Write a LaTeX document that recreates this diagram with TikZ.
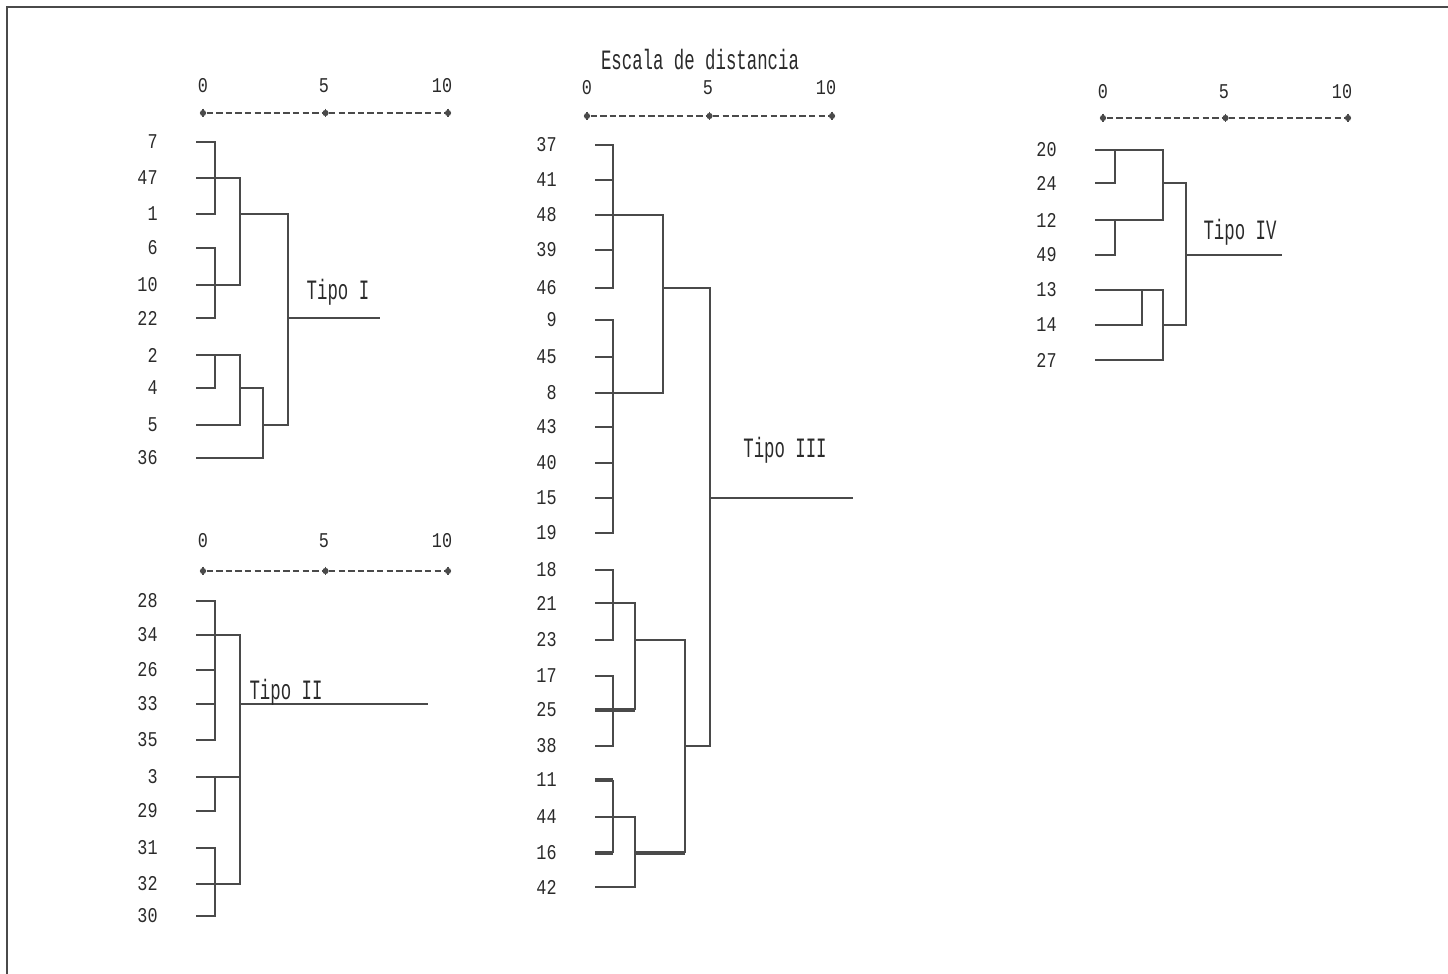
\documentclass[tikz,border=0pt]{standalone}
\usepackage{fontspec}
\newfontfamily\dendfont[FakeStretch=0.8]{Liberation Mono}
\newfontfamily\tipofont[FakeStretch=0.62]{Liberation Mono}
\usetikzlibrary{positioning}
\definecolor{dendline}{HTML}{4A4A4A}
\definecolor{dendtext}{HTML}{2A2A2A}
\tikzset{
leaflabel/.style={
  anchor=east,
  inner sep=0pt,
  text=dendtext,
  font=\dendfont\fontsize{10.5}{12}\selectfont
},
scalenum/.style={inner sep=0pt, text=dendtext, font=\dendfont\fontsize{10.5}{12}\selectfont},
scaletick/.style={circle, fill=dendline, inner sep=1.1pt},
scaleline/.style={draw=dendline, line width=0.7pt, dash pattern=on 3.2pt off 1.6pt},
branch/.style={draw=dendline, line width=0.75pt},
heavy/.style={draw=dendline, line width=1.7pt},
tipolabel/.style={inner sep=0pt, text=dendtext, font=\tipofont\fontsize{14}{16}\selectfont},
}

\begin{document}
\begin{tikzpicture}[x=0.5pt, y=-0.5pt]
    \useasboundingbox (0,0) rectangle (1448,974);
    % frame (only top and left edges show)
    \draw[draw=dendline, line width=1pt] (7,974) -- (7,7) -- (1448,7);

    % distance scales
    \foreach \p/\xo/\yn/\yt in {a/203/86/113, b/203/541/571, c/587/88/116, d/1103/92/118} {
        \node[scalenum] (\p-n0) at (\xo,\yn) {0};
        \node[scalenum] (\p-n5) at ({\xo+121},\yn) {5};
        \node[scalenum] (\p-n10) at ({\xo+239},\yn) {10};
        \node[scaletick] (\p-t0) at (\xo,\yt) {};
        \node[scaletick] (\p-t5) at ({\xo+122.5},\yt) {};
        \node[scaletick] (\p-t10) at ({\xo+245},\yt) {};
        \draw[scaleline] (\p-t0) -- (\p-t5) -- (\p-t10);
        \foreach \t in {t0, t5, t10}
            \draw[branch] ([yshift=2.2pt]\p-\t.center) -- ([yshift=-2.2pt]\p-\t.center);
    }
    \node[tipolabel] (title) at (700,60) {Escala de distancia};

    % Tipo I
    \foreach \lab/\y in {7/142, 47/178, 1/214, 6/248, 10/285, 22/318, 2/355, 4/388, 5/425, 36/458}
        \node[leaflabel] (a-\lab) at (158,\y) {\lab};
    \draw[branch] (196,142) -- (215,142) -- (215,214) -- (196,214);
    \draw[branch] (196,178) -- (240,178) -- (240,285) -- (196,285);
    \draw[branch] (196,248) -- (215,248) -- (215,318) -- (196,318);
    \draw[branch] (196,355) -- (240,355) -- (240,425) -- (196,425);
    \draw[branch] (215,355) -- (215,388) -- (196,388);
    \draw[branch] (240,388) -- (263,388) -- (263,458) -- (196,458);
    \draw[branch] (240,214) -- (288,214) -- (288,425) -- (263,425);
    \draw[branch] (288,318) -- (380,318);
    \node[tipolabel] (tipo1) at (338,292) {Tipo I};

    % Tipo II
    \foreach \lab/\y in {28/601, 34/635, 26/670, 33/704, 35/740, 3/777, 29/811, 31/848, 32/884, 30/916}
        \node[leaflabel] (b-\lab) at (158,\y) {\lab};
    \draw[branch] (196,601) -- (215,601) -- (215,740) -- (196,740);
    \draw[branch] (196,670) -- (215,670);
    \draw[branch] (196,704) -- (215,704);
    \draw[branch] (196,635) -- (240,635) -- (240,884) -- (196,884);
    \draw[branch] (196,777) -- (240,777);
    \draw[branch] (215,777) -- (215,811) -- (196,811);
    \draw[branch] (196,848) -- (215,848) -- (215,916) -- (196,916);
    \draw[branch] (240,704) -- (428,704);
    \node[tipolabel] (tipo2) at (286,692) {Tipo II};

    % Tipo III
    \foreach \lab/\y in {37/145, 41/180, 48/215, 39/250, 46/288, 9/320, 45/357, 8/393, 43/427, 40/463, 15/498,
                         19/533, 18/570, 21/603, 23/640, 17/676, 25/710, 38/746, 11/780, 44/817, 16/853, 42/887}
        \node[leaflabel] (c-\lab) at (557,\y) {\lab};
    \draw[branch] (595,145) -- (613,145) -- (613,288) -- (595,288);
    \foreach \y in {180, 250, 357, 427, 463, 498}
        \draw[branch] (595,\y) -- (613,\y);
    \draw[branch] (595,215) -- (663,215) -- (663,393) -- (595,393);
    \draw[branch] (595,320) -- (613,320) -- (613,533) -- (595,533);
    \draw[branch] (663,288) -- (710,288) -- (710,746) -- (685,746);
    \draw[branch] (710,498) -- (853,498);
    \draw[branch] (595,570) -- (613,570) -- (613,640) -- (595,640);
    \draw[branch] (595,603) -- (635,603) -- (635,710);
    \draw[branch] (595,676) -- (613,676) -- (613,746) -- (595,746);
    \draw[heavy] (595,710) -- (635,710);
    \draw[branch] (635,640) -- (685,640) -- (685,853);
    \draw[branch] (613,780) -- (613,853);
    \draw[heavy] (595,780) -- (613,780);
    \draw[heavy] (595,853) -- (613,853);
    \draw[branch] (595,817) -- (635,817) -- (635,887) -- (595,887);
    \draw[heavy] (635,853) -- (685,853);
    \node[tipolabel] (tipo3) at (785,450) {Tipo III};

    % Tipo IV
    \foreach \lab/\y in {20/150, 24/183, 12/220, 49/255, 13/290, 14/325, 27/360}
        \node[leaflabel] (d-\lab) at (1057,\y) {\lab};
    \draw[branch] (1095,150) -- (1163,150) -- (1163,220) -- (1095,220);
    \draw[branch] (1115,150) -- (1115,183) -- (1095,183);
    \draw[branch] (1115,220) -- (1115,255) -- (1095,255);
    \draw[branch] (1095,290) -- (1163,290) -- (1163,360) -- (1095,360);
    \draw[branch] (1095,325) -- (1142,325) -- (1142,290);
    \draw[branch] (1163,183) -- (1186,183) -- (1186,325) -- (1163,325);
    \draw[branch] (1186,255) -- (1282,255);
    \node[tipolabel] (tipo4) at (1240,232) {Tipo IV};
\end{tikzpicture}
\end{document}
